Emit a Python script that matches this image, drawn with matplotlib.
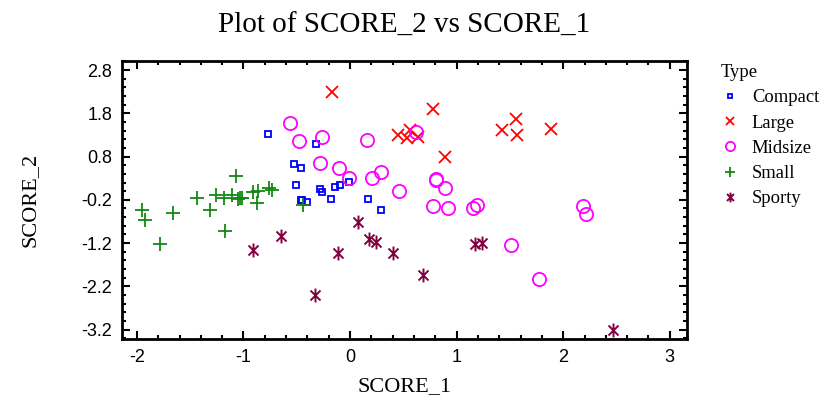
import numpy as np
import matplotlib
matplotlib.use("Agg")
import matplotlib.pyplot as plt
from matplotlib.ticker import MultipleLocator
from matplotlib.path import Path

# Data (SCORE_1, SCORE_2) per Type
compact_x = [-0.77, -0.32, -0.53, -0.46, -0.51, -0.46, -0.45, -0.40, -0.28, -0.26,
             -0.14, -0.09, -0.01, -0.18, 0.17, 0.29]
compact_y = [1.33, 1.08, 0.62, 0.54, 0.15, -0.21, -0.21, -0.26, 0.05, -0.02,
             0.10, 0.15, 0.22, -0.18, -0.18, -0.43]

large_x = [-0.17, 0.78, 0.45, 0.53, 0.56, 0.64, 0.89, 1.43, 1.56, 1.57, 1.89]
large_y = [2.30, 1.90, 1.30, 1.22, 1.41, 1.26, 0.80, 1.41, 1.68, 1.30, 1.44]

midsize_x = [-0.56, -0.48, -0.26, -0.28, -0.10, -0.01, 0.16, 0.21, 0.29, 0.46, 0.62,
             0.81, 0.81, 0.89, 0.78, 0.92, 1.15, 1.19, 2.19, 2.21, 1.51, 1.77]
midsize_y = [1.58, 1.16, 1.26, 0.66, 0.54, 0.30, 1.18, 0.30, 0.44, 0.01, 1.38,
             0.28, 0.26, 0.08, -0.34, -0.38, -0.39, -0.32, -0.34, -0.53, -1.25, -2.03]

small_x = [-1.07, -1.44, -1.26, -1.18, -1.11, -1.05, -1.03, -1.01, -0.91, -0.86,
           -0.87, -0.76, -0.73, -1.95, -1.92, -1.66, -1.31, -1.78, -1.17, -0.44]
small_y = [0.35, -0.15, -0.09, -0.15, -0.09, -0.18, -0.15, -0.16, -0.02, 0.0,
           -0.27, 0.08, 0.02, -0.43, -0.66, -0.50, -0.43, -1.22, -0.91, -0.32]

sporty_x = [-0.91, -0.65, -0.33, 0.07, 0.18, 0.24, -0.11, 0.40, 0.68, 1.17, 1.24, 2.47]
sporty_y = [-1.36, -1.03, -2.40, -0.72, -1.11, -1.18, -1.43, -1.43, -1.93, -1.22, -1.20, -3.22]

y_ticks = [2.8, 1.8, 0.8, -0.2, -1.2, -2.2, -3.2]
x_ticks = [-2, -1, 0, 1, 2, 3]

serif = "Liberation Serif"
sans = "Liberation Sans"

# asterisk: vertical bar plus an X
d = 0.72
star = Path([(0, -1), (0, 1), (-d, -d), (d, d), (-d, d), (d, -d)],
            [Path.MOVETO, Path.LINETO, Path.MOVETO, Path.LINETO, Path.MOVETO, Path.LINETO])

fig = plt.figure(figsize=(8.21, 4.07), dpi=100)
ax = fig.add_axes([0.1486, 0.167, 0.688, 0.683])

ax.plot(compact_x, compact_y, ls="none", marker="s", ms=5, mfc="none", mec="#0000ff",
        mew=1.3, label="Compact")
ax.plot(large_x, large_y, ls="none", marker="x", ms=9, mec="#ff0000", mew=1.3, label="Large")
ax.plot(midsize_x, midsize_y, ls="none", marker="o", ms=9.5, mfc="none", mec="#ff00ff",
        mew=1.3, label="Midsize")
ax.plot(small_x, small_y, ls="none", marker="+", ms=10, mec="#118811", mew=1.3, label="Small")
ax.plot(sporty_x, sporty_y, ls="none", marker=star, ms=10, mec="#800040", mew=1.4,
        label="Sporty")

ax.set_xlim(-2.14, 3.16)
ax.set_ylim(-3.42, 3.01)
ax.set_xticks(x_ticks)
ax.set_yticks(y_ticks)
ax.set_xticklabels([str(v) for v in x_ticks], fontfamily=sans, fontsize=13)
ax.set_yticklabels([f"{v:.1f}" for v in y_ticks], fontfamily=sans, fontsize=13)
ax.xaxis.set_minor_locator(MultipleLocator(0.2))
ax.set_yticks(np.arange(-3.4, 3.01, 0.2), minor=True)

ax.tick_params(which="both", direction="in", top=True, right=True, width=1.5)
ax.tick_params(which="major", length=6, pad=7)
ax.tick_params(which="minor", length=3)
for sp in ax.spines.values():
    sp.set_linewidth(2)

ax.set_title("Plot of SCORE_2 vs SCORE_1", fontfamily=serif, fontsize=21, pad=20)
ax.set_xlabel("SCORE_1", fontfamily=serif, fontsize=16, labelpad=8)
ax.set_ylabel("SCORE_2", fontfamily=serif, fontsize=16, labelpad=30)

leg = ax.legend(loc="upper left", bbox_to_anchor=(0.866, 0.865), bbox_transform=fig.transFigure,
                frameon=False, title="Type", alignment="left",
                prop={"family": serif, "size": 13.4}, handletextpad=0.7, labelspacing=0.44,
                borderpad=0, handlelength=1.0)
leg.get_title().set_fontfamily(serif)
leg.get_title().set_fontsize(13.4)
for h in leg.legend_handles:
    h.set_markersize(h.get_markersize() * 0.7)

fig.savefig("out.png", dpi=100)
